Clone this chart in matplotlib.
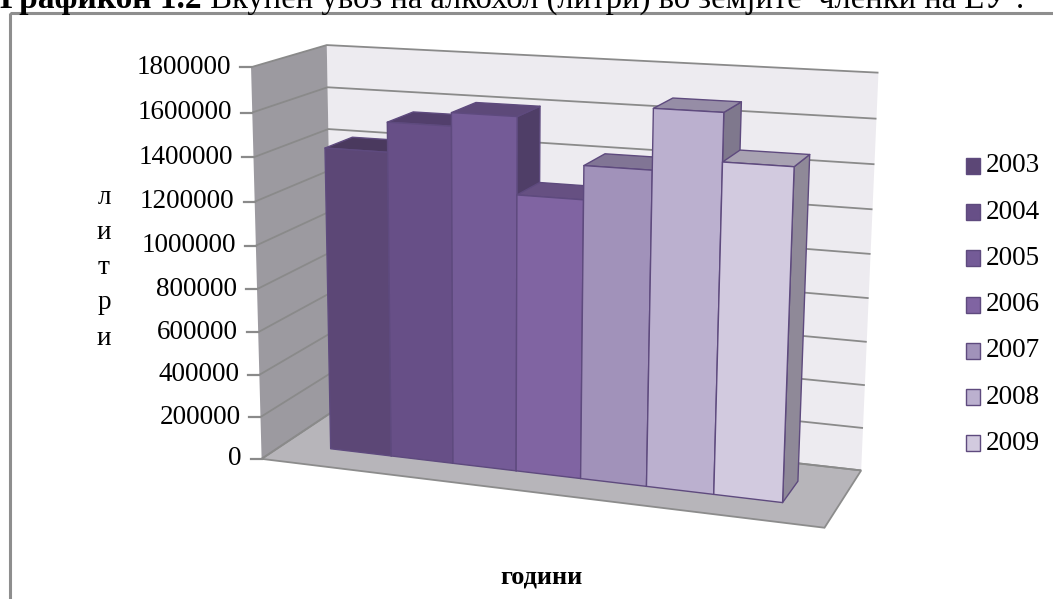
import numpy as np
import matplotlib.pyplot as plt
from matplotlib.patches import Polygon, Rectangle

# imported litres per year
years = ['2003', '2004', '2005', '2006', '2007', '2008', '2009']
litres = [1415000, 1550000, 1610000, 1265000, 1415000, 1680000, 1470000]
bar_colors = ['#5C4776', '#674F87', '#745B97', '#8064A2', '#A192BA', '#BBB0CF', '#D2CADF']
y_ticks = list(range(0, 1800001, 200000))
y_max = 1800000

title_bold = 'Графикон 1.2'
title_rest = ' Вкупен увоз на алкохол (литри) во земјите  членки на ЕУ :'
y_label = 'литри'
x_label = 'години'

plt.rcParams['font.family'] = ['Liberation Serif', 'DejaVu Serif']

W, H = 1053, 599
fig = plt.figure(figsize=(W / 100, H / 100), dpi=100)
ax = fig.add_axes([0, 0, 1, 1])
ax.set_xlim(0, W)
ax.set_ylim(H, 0)
ax.axis('off')


def fit_camera(world, px):
    # plain DLT: 3x4 projection matrix from box corners
    c = px.mean(0)
    s = 500.0
    uv = (px - c) / s
    rows = []
    for (X, Y, Z), (u, v) in zip(world, uv):
        rows.append([X, Y, Z, 1, 0, 0, 0, 0, -u * X, -u * Y, -u * Z, -u])
        rows.append([0, 0, 0, 0, X, Y, Z, 1, -v * X, -v * Y, -v * Z, -v])
    _, _, vt = np.linalg.svd(np.array(rows))
    P = vt[-1].reshape(3, 4)

    def project(pts):
        pts = np.atleast_2d(np.asarray(pts, float))
        h = np.c_[pts, np.ones(len(pts))] @ P.T
        return h[:, :2] / h[:, 2:3] * s + c
    return project


# world: x across the floor, y = value / y_max, z = depth (0 front, 1 back)
box_world = np.array([[0, 0, 0], [0, 1, 0], [0, 0, 1], [0, 1, 1],
                      [1, 1, 1], [1, 0, 1], [1, 0, 0]], float)
box_px = np.array([[265, 457], [248, 67], [330, 413], [330, 45],
                   [878, 73], [862, 468], [824, 530]], float)
project = fit_camera(box_world, box_px)


def face(pts, z=1, **kw):
    ax.add_patch(Polygon(project(pts), closed=True, zorder=z, **kw))


# chart frame
ax.add_patch(Rectangle((9.5, 12.5), 1100, 700, fill=False, ec='#8E8E8E', lw=2.2))

# walls and floor
face([(0, 0, 1), (1, 0, 1), (1, 1, 1), (0, 1, 1)], fc='#EDEBF0', ec='none')
face([(0, 0, 0), (0, 0, 1), (0, 1, 1), (0, 1, 0)], fc='#9C9AA0', ec='none')
face([(0, 0, 0), (1, 0, 0), (1, 0, 1), (0, 0, 1)], fc='#B7B5BA', ec='#8C8C8C', lw=1.3)

for t in y_ticks:
    f = t / y_max
    g = project([(0, f, 0), (0, f, 1), (1, f, 1)])
    ax.plot(g[:, 0], g[:, 1], color='#8A8A8A', lw=1.3, solid_capstyle='butt', zorder=1.5)
    p = project((0, f, 0))[0]
    ax.plot([p[0] - 11, p[0]], [p[1], p[1]], color='#8A8A8A', lw=1.6, zorder=1.5)
    ax.text(p[0] - 20, p[1], f'{t}', ha='right', va='center', fontsize=19.5)

# bars: side and top first, front face last so the next bar hides the side
margin = 0.09
bar_w = (1 - 2 * margin) / len(years)
z0, z1 = 0.31, 0.69
edge = '#5E4A7E'


def shade(col, k):
    r, g, b = [int(col[i:i + 2], 16) for i in (1, 3, 5)]
    return (r * k / 255, g * k / 255, b * k / 255)


for i, (val, col) in enumerate(zip(litres, bar_colors)):
    xa = margin + i * bar_w
    xb = xa + bar_w
    h = val / y_max
    face([(xb, 0, z0), (xb, 0, z1), (xb, h, z1), (xb, h, z0)], z=3,
         fc=shade(col, 0.68), ec=edge, lw=1.0, joinstyle='round')
    face([(xa, h, z0), (xb, h, z0), (xb, h, z1), (xa, h, z1)], z=3,
         fc=shade(col, 0.80), ec=edge, lw=1.0, joinstyle='round')
    face([(xa, 0, z0), (xb, 0, z0), (xb, h, z0), (xa, h, z0)], z=3,
         fc=col, ec=edge, lw=1.0, joinstyle='round')

# legend
for i, (yr, col) in enumerate(zip(years, bar_colors)):
    y = 166 + i * 46.2
    ax.add_patch(Rectangle((966, y - 8), 14, 16, fc=col, ec=edge, lw=1.0))
    ax.text(986, y, yr, ha='left', va='center', fontsize=19.5)

# axis titles
for k, ch in enumerate(y_label):
    ax.text(104, 197 + k * 35.3, ch, ha='center', va='center', fontsize=19.5)
ax.text(541, 577, x_label, ha='center', va='center', fontsize=19, fontweight='bold')

# heading, mostly above the top edge
t1 = ax.text(0, 8, title_bold, ha='left', va='baseline', fontsize=24, fontweight='bold')
ax.annotate(title_rest, xy=(1, 0), xycoords=t1, ha='left', va='bottom', fontsize=23.5)

fig.savefig('out.png', dpi=100)
